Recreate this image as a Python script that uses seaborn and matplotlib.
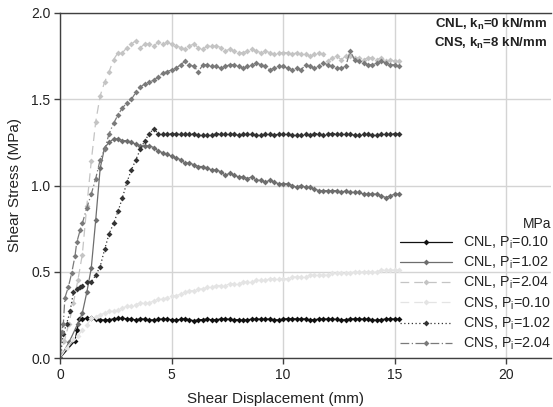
import matplotlib
matplotlib.use('Agg')
import pandas as pd
import seaborn as sns
import matplotlib.pyplot as plt

# shear displacement grid (mm) for the steady part of each test
grid = [1.0, 1.2, 1.4, 1.6, 1.8, 2.0, 2.2, 2.4, 2.6, 2.8,
        3.0, 3.2, 3.4, 3.6, 3.8, 4.0, 4.2, 4.4, 4.6, 4.8,
        5.0, 5.2, 5.4, 5.6, 5.8, 6.0, 6.2, 6.4, 6.6, 6.8,
        7.0, 7.2, 7.4, 7.6, 7.8, 8.0, 8.2, 8.4, 8.6, 8.8,
        9.0, 9.2, 9.4, 9.6, 9.8, 10.0, 10.2, 10.4, 10.6, 10.8,
        11.0, 11.2, 11.4, 11.6, 11.8, 12.0, 12.2, 12.4, 12.6, 12.8,
        13.0, 13.2, 13.4, 13.6, 13.8, 14.0, 14.2, 14.4, 14.6, 14.8,
        15.0, 15.2]

# CNL, Pi = 0.10
cnl010_x0 = [0, 0.67, 0.76, 0.85]
cnl010_y0 = [0, 0.10, 0.16, 0.225]
cnl010_y = [0.228, 0.230, 0.229, 0.226, 0.222, 0.220, 0.222, 0.227, 0.229, 0.229,
            0.228, 0.225, 0.221, 0.227, 0.225, 0.221, 0.221, 0.224, 0.226, 0.226,
            0.222, 0.220, 0.224, 0.228, 0.222, 0.216, 0.221, 0.223, 0.226, 0.221,
            0.222, 0.226, 0.227, 0.224, 0.222, 0.222, 0.219, 0.222, 0.225, 0.226,
            0.225, 0.225, 0.226, 0.222, 0.221, 0.226, 0.228, 0.227, 0.227, 0.226,
            0.227, 0.221, 0.222, 0.226, 0.226, 0.226, 0.225, 0.224, 0.220, 0.222,
            0.226, 0.227, 0.227, 0.225, 0.226, 0.221, 0.219, 0.223, 0.226, 0.227,
            0.226, 0.225]

# CNL, Pi = 1.02
cnl102_x0 = [0, 0.4, 0.8]
cnl102_y0 = [0, 0.09, 0.20]
cnl102_y = [0.26, 0.38, 0.52, 0.80, 1.10, 1.22, 1.25, 1.27, 1.27, 1.26,
            1.26, 1.25, 1.24, 1.23, 1.23, 1.23, 1.22, 1.20, 1.19, 1.18,
            1.17, 1.16, 1.15, 1.13, 1.13, 1.12, 1.11, 1.11, 1.10, 1.09,
            1.09, 1.08, 1.06, 1.07, 1.06, 1.05, 1.05, 1.04, 1.05, 1.03,
            1.03, 1.02, 1.03, 1.02, 1.01, 1.01, 1.01, 1.00, 0.99, 1.00,
            0.99, 0.99, 0.98, 0.97, 0.97, 0.97, 0.97, 0.97, 0.96, 0.97,
            0.96, 0.96, 0.96, 0.95, 0.95, 0.95, 0.95, 0.94, 0.93, 0.94,
            0.95, 0.95]

# CNL, Pi = 2.04
cnl204_x0 = [0, 0.2, 0.4, 0.6, 0.8]
cnl204_y0 = [0, 0.10, 0.20, 0.32, 0.45]
cnl204_y = [0.60, 0.88, 1.14, 1.37, 1.52, 1.60, 1.66, 1.73, 1.77, 1.77,
            1.80, 1.82, 1.84, 1.80, 1.82, 1.82, 1.81, 1.83, 1.82, 1.83,
            1.82, 1.81, 1.80, 1.79, 1.81, 1.82, 1.80, 1.79, 1.81, 1.81,
            1.81, 1.80, 1.78, 1.79, 1.78, 1.77, 1.77, 1.78, 1.79, 1.78,
            1.77, 1.78, 1.77, 1.76, 1.77, 1.77, 1.77, 1.76, 1.77, 1.76,
            1.76, 1.75, 1.76, 1.77, 1.76, 1.72, 1.74, 1.75, 1.73, 1.75,
            1.75, 1.74, 1.74, 1.73, 1.74, 1.74, 1.73, 1.74, 1.72, 1.73,
            1.72, 1.72]

# CNS, Pi = 0.10
cns010_x0 = [0, 0.3, 0.6, 0.8]
cns010_y0 = [0, 0.06, 0.11, 0.13]
cns010_y = [0.16, 0.19, 0.23, 0.24, 0.25, 0.26, 0.27, 0.27, 0.28, 0.29,
            0.30, 0.30, 0.31, 0.32, 0.32, 0.32, 0.33, 0.34, 0.34, 0.35,
            0.36, 0.36, 0.37, 0.38, 0.39, 0.39, 0.40, 0.40, 0.41, 0.41,
            0.42, 0.42, 0.42, 0.43, 0.43, 0.43, 0.44, 0.44, 0.44, 0.45,
            0.45, 0.45, 0.46, 0.46, 0.46, 0.46, 0.46, 0.47, 0.47, 0.47,
            0.47, 0.48, 0.48, 0.48, 0.48, 0.48, 0.49, 0.49, 0.49, 0.49,
            0.49, 0.50, 0.50, 0.50, 0.50, 0.50, 0.50, 0.51, 0.51, 0.51,
            0.51, 0.51]

# CNS, Pi = 1.02
cns102_x0 = [0, 0.15, 0.3, 0.45, 0.6, 0.75, 0.9]
cns102_y0 = [0, 0.14, 0.20, 0.27, 0.38, 0.40, 0.41]
cns102_y = [0.42, 0.44, 0.44, 0.48, 0.53, 0.63, 0.72, 0.78, 0.85, 0.93,
            1.02, 1.09, 1.15, 1.21, 1.26, 1.30, 1.33, 1.30, 1.30, 1.30,
            1.30, 1.30, 1.30, 1.30, 1.30, 1.30, 1.29, 1.29, 1.29, 1.29,
            1.30, 1.30, 1.30, 1.30, 1.30, 1.29, 1.30, 1.30, 1.30, 1.29,
            1.29, 1.30, 1.30, 1.29, 1.30, 1.30, 1.30, 1.29, 1.29, 1.29,
            1.30, 1.29, 1.30, 1.30, 1.29, 1.30, 1.30, 1.30, 1.30, 1.30,
            1.30, 1.29, 1.29, 1.30, 1.30, 1.29, 1.29, 1.30, 1.30, 1.30,
            1.30, 1.30]

# CNS, Pi = 2.04
cns204_x0 = [0, 0.07, 0.15, 0.22, 0.37, 0.52, 0.67, 0.75, 0.9]
cns204_y0 = [0, 0.15, 0.20, 0.35, 0.41, 0.49, 0.59, 0.67, 0.74]
cns204_y = [0.78, 0.87, 0.95, 1.04, 1.15, 1.21, 1.30, 1.36, 1.41, 1.45,
            1.48, 1.50, 1.54, 1.57, 1.59, 1.60, 1.61, 1.63, 1.65, 1.66,
            1.67, 1.68, 1.70, 1.72, 1.70, 1.69, 1.66, 1.70, 1.70, 1.69,
            1.69, 1.68, 1.69, 1.70, 1.70, 1.69, 1.68, 1.69, 1.70, 1.71,
            1.70, 1.69, 1.67, 1.68, 1.69, 1.69, 1.68, 1.67, 1.68, 1.67,
            1.70, 1.69, 1.68, 1.69, 1.71, 1.70, 1.69, 1.68, 1.68, 1.69,
            1.78, 1.73, 1.72, 1.71, 1.70, 1.70, 1.71, 1.72, 1.71, 1.70,
            1.70, 1.69]

series = [
    ("CNL, P$_i$=0.10", cnl010_x0, cnl010_y0, cnl010_y, '#111111', '-'),
    ("CNL, P$_i$=1.02", cnl102_x0, cnl102_y0, cnl102_y, '#6e6e6e', '-'),
    ("CNL, P$_i$=2.04", cnl204_x0, cnl204_y0, cnl204_y, '#c4c4c4', (0, (7, 4))),
    ("CNS, P$_i$=0.10", cns010_x0, cns010_y0, cns010_y, '#e4e4e4', (0, (7, 4))),
    ("CNS, P$_i$=1.02", cns102_x0, cns102_y0, cns102_y, '#333333', (0, (1, 2))),
    ("CNS, P$_i$=2.04", cns204_x0, cns204_y0, cns204_y, '#7a7a7a', (0, (7, 2, 1, 2))),
]

sns.set_style('ticks')
plt.rcParams['font.family'] = ['Liberation Sans', 'DejaVu Sans']
plt.rcParams['mathtext.default'] = 'regular'

fig = plt.figure(figsize=(5.53, 4.07), dpi=100)
ax = fig.add_axes([60 / 553, 1 - 358 / 407, 491 / 553, 345 / 407])

for label, x0, y0, y, col, ls in series:
    df = pd.DataFrame({'x': x0 + grid, 'y': y0 + y})
    sns.lineplot(data=df, x='x', y='y', ax=ax, sort=False, estimator=None,
                 color=col, linestyle=ls, linewidth=0.9, marker='D',
                 markersize=3, markeredgewidth=0, label=label)

ax.set_xlim(0, 22)
ax.set_ylim(0, 2.0)
ax.set_xticks([0, 5, 10, 15, 20])
ax.set_yticks([0.0, 0.5, 1.0, 1.5, 2.0])
ax.set_yticklabels(['0.0', '0.5', '1.0', '1.5', '2.0'])
ax.grid(True, color='#d4d4d4', linewidth=1.0)
ax.set_axisbelow(True)
for s in ['left', 'bottom', 'top']:
    ax.spines[s].set_color('#404040')
    ax.spines[s].set_linewidth(1.0)
ax.spines['right'].set_visible(False)
ax.tick_params(direction='out', length=4, width=1, color='#404040',
               labelsize=10, labelcolor='#222222', pad=3)

ax.set_xlabel('Shear Displacement (mm)', fontsize=11, color='#222222')
ax.set_ylabel('Shear Stress (MPa)', fontsize=11, color='#222222')
ax.xaxis.set_label_coords(0.438, -0.1)
ax.yaxis.set_label_coords(-0.077, 0.5)

ax.text(0.992, 0.968, 'CNL, k$_n$=0 kN/mm', transform=ax.transAxes,
        ha='right', va='center', fontsize=9.5, fontweight='bold', color='#222222')
ax.text(0.992, 0.913, 'CNS, k$_n$=8 kN/mm', transform=ax.transAxes,
        ha='right', va='center', fontsize=9.5, fontweight='bold', color='#222222')

leg = ax.legend(title='MPa', loc='lower right', bbox_to_anchor=(1.012, 0.0),
                frameon=False, fontsize=10.3, title_fontsize=10,
                handlelength=3.6, handletextpad=0.8, labelspacing=0.27,
                alignment='right', borderaxespad=0.0)
for t in leg.get_texts():
    t.set_color('#222222')
leg.get_title().set_color('#222222')

fig.savefig('out.png', dpi=100)
